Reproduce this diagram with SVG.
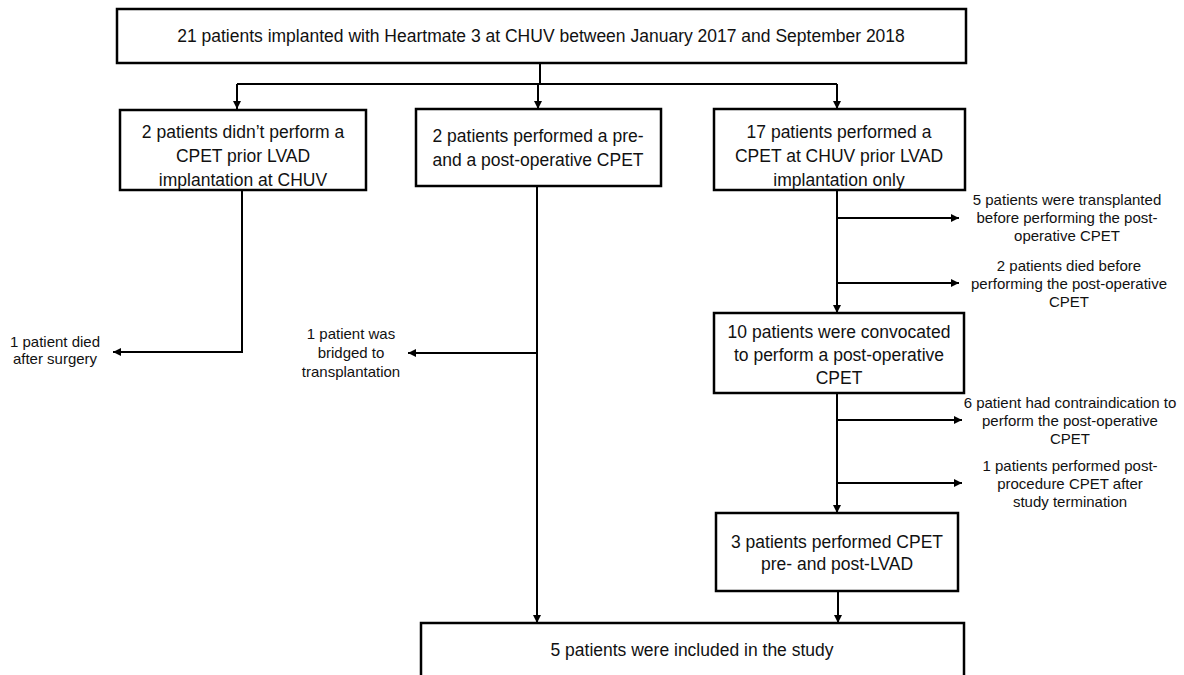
<svg xmlns="http://www.w3.org/2000/svg" width="1184" height="675" viewBox="0 0 1184 675">
<style>
.box{fill:#fff;stroke:#000;stroke-width:2.5}
.t{font-family:"Liberation Sans",Arial,sans-serif;font-size:17.5px;fill:#111;text-anchor:middle}
.s{font-family:"Liberation Sans",Arial,sans-serif;font-size:15px;fill:#111;text-anchor:middle}
.c{fill:none;stroke:#000;stroke-width:2}
</style>
<defs>
<marker id="ah" viewBox="0 0 10 10" refX="10" refY="5" markerWidth="4" markerHeight="4" orient="auto" markerUnits="strokeWidth">
<path d="M0,0 L10,5 L0,10 z" fill="#000"/>
</marker>
</defs>
<rect width="1184" height="675" fill="#fff"/>
<g id="connectors">
<path class="c" d="M540,63 V84"/>
<path class="c" d="M237,84 H837"/>
<path class="c" d="M237,84 V109" marker-end="url(#ah)"/>
<path class="c" d="M538,84 V109" marker-end="url(#ah)"/>
<path class="c" d="M837,84 V109" marker-end="url(#ah)"/>
<path class="c" d="M242,190 V352 H113" marker-end="url(#ah)"/>
<path class="c" d="M537,186 V623" marker-end="url(#ah)"/>
<path class="c" d="M537,353 H408" marker-end="url(#ah)"/>
<path class="c" d="M837,190 V313" marker-end="url(#ah)"/>
<path class="c" d="M837,218 H959" marker-end="url(#ah)"/>
<path class="c" d="M837,283 H959" marker-end="url(#ah)"/>
<path class="c" d="M837,393 V513" marker-end="url(#ah)"/>
<path class="c" d="M837,420 H962" marker-end="url(#ah)"/>
<path class="c" d="M837,483 H962" marker-end="url(#ah)"/>
<path class="c" d="M838,591 V623" marker-end="url(#ah)"/>
</g>
<g id="n-top">
<rect class="box" x="117" y="9" width="849" height="54"/>
<text class="t" x="541" y="42">21 patients implanted with Heartmate 3 at CHUV between January 2017 and September 2018</text>
</g>
<g id="n-nocpet">
<rect class="box" x="120" y="110" width="246" height="80"/>
<text class="t" x="243" y="138">2 patients didn’t perform a</text>
<text class="t" x="243" y="162">CPET prior LVAD</text>
<text class="t" x="243" y="186">implantation at CHUV</text>
</g>
<g id="n-prepost">
<rect class="box" x="416" y="109" width="245" height="77"/>
<text class="t" x="538" y="142">2 patients performed a pre-</text>
<text class="t" x="538" y="166">and a post-operative CPET</text>
</g>
<g id="n-17">
<rect class="box" x="714" y="109" width="251" height="81"/>
<text class="t" x="839" y="138">17 patients performed a</text>
<text class="t" x="839" y="162">CPET  at CHUV prior LVAD</text>
<text class="t" x="839" y="186">implantation only</text>
</g>
<g id="n-died1">
<text class="s" x="55" y="347">1 patient died</text>
<text class="s" x="55" y="364">after surgery</text>
</g>
<g id="n-bridged">
<text class="s" x="351" y="339">1 patient was</text>
<text class="s" x="351" y="358">bridged to</text>
<text class="s" x="351" y="377">transplantation</text>
</g>
<g id="n-transpl">
<text class="s" x="1067" y="205">5 patients were transplanted</text>
<text class="s" x="1067" y="223">before performing the post-</text>
<text class="s" x="1067" y="241">operative CPET</text>
</g>
<g id="n-died2">
<text class="s" x="1069" y="271">2 patients died before</text>
<text class="s" x="1069" y="289">performing the post-operative</text>
<text class="s" x="1069" y="307">CPET</text>
</g>
<g id="n-10">
<rect class="box" x="714" y="313" width="250" height="80"/>
<text class="t" x="839" y="338">10 patients were convocated</text>
<text class="t" x="839" y="361">to perform a post-operative</text>
<text class="t" x="839" y="384">CPET</text>
</g>
<g id="n-contra">
<text class="s" x="1070" y="408">6 patient had contraindication to</text>
<text class="s" x="1070" y="426">perform the post-operative</text>
<text class="s" x="1070" y="444">CPET</text>
</g>
<g id="n-after">
<text class="s" x="1070" y="471">1 patients performed post-</text>
<text class="s" x="1070" y="489">procedure CPET after</text>
<text class="s" x="1070" y="507">study termination</text>
</g>
<g id="n-3">
<rect class="box" x="716" y="513" width="242" height="78"/>
<text class="t" x="837" y="548">3 patients performed CPET</text>
<text class="t" x="837" y="570">pre- and post-LVAD</text>
</g>
<g id="n-final">
<rect class="box" x="421" y="623" width="543" height="80"/>
<text class="t" x="692" y="656">5 patients were included in the study</text>
</g>
</svg>
